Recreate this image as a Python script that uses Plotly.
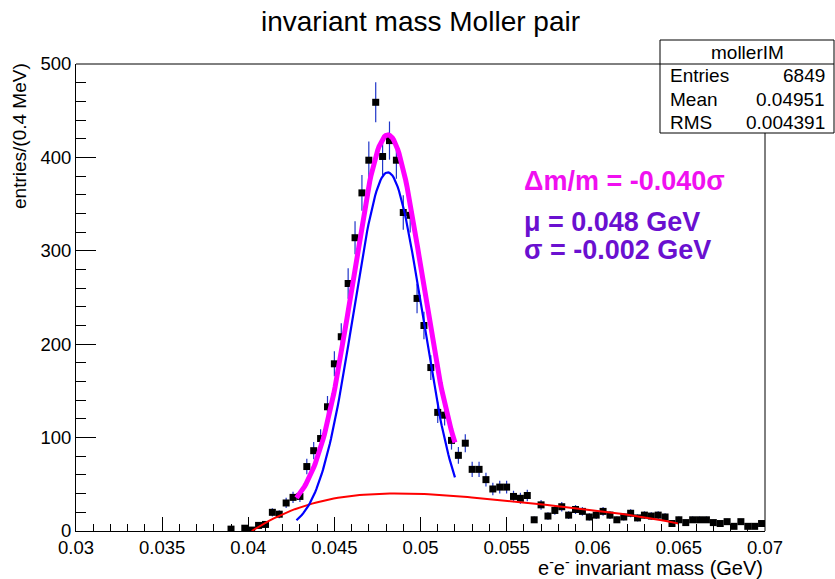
import numpy as np
import plotly.graph_objects as go

# ---------------- data ----------------
BIN_LOW = 0.03
BIN_WIDTH = 0.0004  # 0.4 MeV

bin_index = [22, 24, 25, 26, 27, 28, 29, 30, 31, 32,
             33, 34, 35, 36, 37, 38, 39, 40, 41, 42,
             43, 44, 45, 46, 47, 48, 49, 50, 51, 52, 53,
             54, 55, 56, 57, 58, 59, 60, 61, 62, 63, 64, 65,
             66, 67, 68, 69, 70, 71, 72, 73, 74, 75, 76, 77, 78, 79,
             80, 81, 82, 83, 84, 85, 86, 87, 88, 89, 90, 91, 92, 93,
             94, 95, 96, 97, 98, 99]
counts = [2, 3, 1, 6, 7, 20, 18, 30, 36, 37,
          69, 86, 99, 133, 179, 208, 265, 314, 362, 397,
          459, 401, 418, 397, 341, 338, 249, 220, 175, 127, 124,
          97, 81, 94, 66, 66, 55, 45, 47, 47, 37, 35, 38,
          12, 28, 16, 22, 26, 17, 23, 21, 15, 17, 21, 17, 12, 15,
          19, 14, 17, 16, 17, 15, 8, 12, 9, 12, 12, 12, 9, 8,
          10, 5, 10, 5, 5, 8]

# fit results (signal gaussian + background polynomial)
GAUS_AMP = 384.0
GAUS_MEAN = 0.0481
GAUS_SIGMA = 0.0020
FIT_RANGE = (0.0428, 0.0520)
BKG_X0 = 0.0402
BKG_COEF = [12.100, -1.2238, 0.04817, -0.000725]  # u=(x-x0)[MeV]: u*(c0+c1 u+c2 u^2+c3 u^3)
BKG_RANGE = (0.0402, 0.0650)

stats_title = "mollerIM"
stats_names = ["Entries", "Mean", "RMS"]
stats_values = ["6849", "0.04951", "0.004391"]

title_text = "invariant mass Moller pair"
x_title = "e<sup>-</sup>e<sup>-</sup> invariant mass (GeV)"
y_title = "entries/(0.4 MeV)"
fit_texts = ["\u0394m/m = -0.040\u03c3", "\u03bc = 0.048 GeV", "\u03c3 = -0.002 GeV"]

# ---------------- derived ----------------
centers = [BIN_LOW + (i + 0.5) * BIN_WIDTH for i in bin_index]
errors = [np.sqrt(c) for c in counts]


def gaus(x):
    return GAUS_AMP * np.exp(-0.5 * ((x - GAUS_MEAN) / GAUS_SIGMA) ** 2)


def bkg(x):
    u = (x - BKG_X0) * 1000.0
    c = BKG_COEF
    return np.clip(u * (c[0] + c[1] * u + c[2] * u ** 2 + c[3] * u ** 3), 0, None)


xf = np.linspace(FIT_RANGE[0], FIT_RANGE[1], 120)
xb = np.linspace(BKG_RANGE[0], BKG_RANGE[1], 100)

# ---------------- layout geometry (pixels) ----------------
W, H = 835, 579
L, R, T, B = 76, 765, 64, 531
PW, PH = R - L, B - T


def px(xpix):
    return (xpix - L) / PW


def py(ypix):
    return (B - ypix) / PH


FONT = "Liberation Sans, Arial, Helvetica, sans-serif"

fig = go.Figure()

fig.add_trace(go.Scatter(
    x=centers, y=counts, mode="markers",
    marker=dict(symbol="square", size=7, color="black"),
    error_y=dict(type="data", array=errors, visible=True, color="#2036c8",
                 thickness=1.2, width=0),
    showlegend=False, hoverinfo="skip"))

fig.add_trace(go.Scatter(x=xb, y=bkg(xb), mode="lines",
                         line=dict(color="#ff0000", width=2), showlegend=False))
fig.add_trace(go.Scatter(x=xf, y=gaus(xf), mode="lines",
                         line=dict(color="#0000ff", width=2.2), showlegend=False))
fig.add_trace(go.Scatter(x=xf, y=gaus(xf) + bkg(xf), mode="lines",
                         line=dict(color="#ff00ff", width=5), showlegend=False))

annotations = []
annotations.append(dict(text=title_text, x=0.5, y=py(22), xref="paper", yref="paper",
                        showarrow=False, xanchor="center", yanchor="middle",
                        font=dict(family=FONT, size=28, color="black")))
annotations.append(dict(text=x_title, x=1.0, y=py(566), xref="paper", yref="paper",
                        showarrow=False, xanchor="right", yanchor="middle",
                        font=dict(family=FONT, size=20, color="black")))
annotations.append(dict(text=y_title, x=px(20), y=py(61), xref="paper", yref="paper",
                        showarrow=False, xanchor="center", yanchor="top", textangle=-90,
                        font=dict(family=FONT, size=19, color="black")))

fit_colors = ["#f010f0", "#6a10d0", "#6a10d0"]
fit_y = [181, 222, 250]
for t, c, yy in zip(fit_texts, fit_colors, fit_y):
    annotations.append(dict(text="<b>" + t + "</b>", x=px(522), y=py(yy), xref="paper", yref="paper",
                            showarrow=False, xanchor="left", yanchor="middle",
                            font=dict(family=FONT, size=27, color=c)))

# stats box
BX0, BX1, BY0, BY1, BSEP = 660, 834, 40, 133, 64
annotations.append(dict(text=stats_title, x=px((BX0 + BX1) / 2), y=py(52), xref="paper", yref="paper",
                        showarrow=False, xanchor="center", yanchor="middle",
                        font=dict(family=FONT, size=19, color="black")))
for k, (n, v) in enumerate(zip(stats_names, stats_values)):
    yy = 76 + 23 * k
    annotations.append(dict(text=n, x=px(668), y=py(yy), xref="paper", yref="paper",
                            showarrow=False, xanchor="left", yanchor="middle",
                            font=dict(family=FONT, size=19, color="black")))
    annotations.append(dict(text=v, x=px(827), y=py(yy), xref="paper", yref="paper",
                            showarrow=False, xanchor="right", yanchor="middle",
                            font=dict(family=FONT, size=19, color="black")))

shapes = [
    # top and right frame lines, stopping at the stats box
    dict(type="line", xref="paper", yref="paper", x0=0, x1=px(BX0), y0=1, y1=1,
         line=dict(color="black", width=1), layer="above"),
    dict(type="line", xref="paper", yref="paper", x0=1, x1=1, y0=0, y1=py(BY1),
         line=dict(color="black", width=1), layer="above"),
    dict(type="rect", xref="paper", yref="paper", x0=px(BX0), x1=px(BX1), y0=py(BY1), y1=py(BY0),
         line=dict(color="black", width=1), fillcolor="rgba(0,0,0,0)", layer="above"),
    dict(type="line", xref="paper", yref="paper", x0=px(BX0), x1=px(BX1), y0=py(BSEP), y1=py(BSEP),
         line=dict(color="black", width=1), layer="above"),
]

fig.update_layout(
    width=W, height=H,
    margin=dict(l=L, r=W - R, t=T, b=H - B, pad=0),
    paper_bgcolor="white", plot_bgcolor="white",
    showlegend=False,
    annotations=annotations, shapes=shapes,
    font=dict(family=FONT, color="black"),
    xaxis=dict(range=[0.03, 0.07], tick0=0.03, dtick=0.005, showgrid=False, zeroline=False,
               showline=True, linecolor="black", linewidth=1, mirror=False,
               ticks="inside", ticklen=14, tickwidth=1, tickcolor="black",
               minor=dict(ticks="inside", ticklen=7, dtick=0.001, tickcolor="black", showgrid=False),
               tickfont=dict(family=FONT, size=18.5, color="black")),
    yaxis=dict(range=[0, 500], tick0=0, dtick=100, showgrid=False, zeroline=False,
               showline=True, linecolor="black", linewidth=1, mirror=False,
               ticks="inside", ticklen=20, tickwidth=1, tickcolor="black",
               minor=dict(ticks="inside", ticklen=10, dtick=20, tickcolor="black", showgrid=False),
               tickfont=dict(family=FONT, size=18.5, color="black")),
)

fig.write_html("out.html")
